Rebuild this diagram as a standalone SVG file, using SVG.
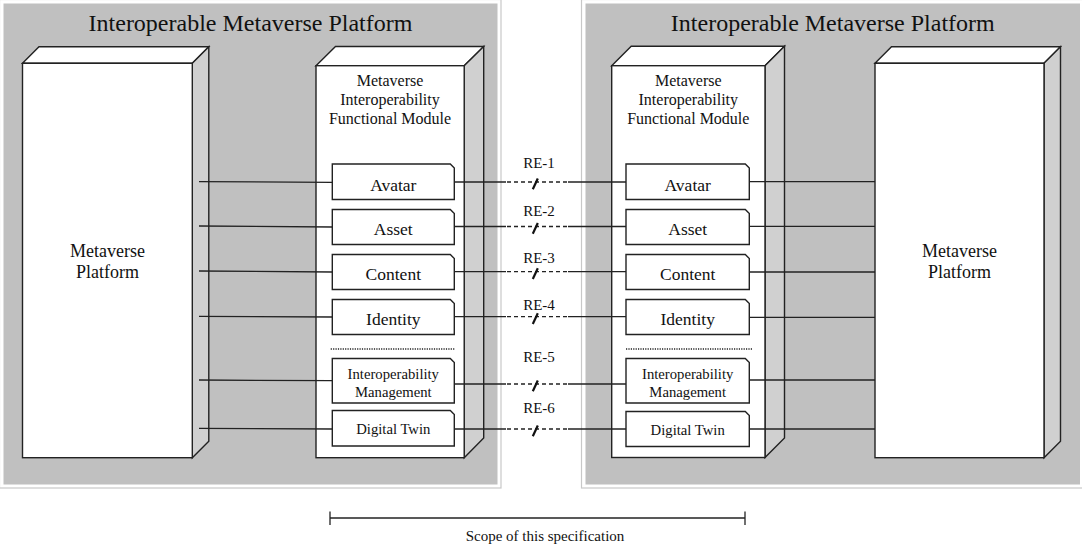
<svg xmlns="http://www.w3.org/2000/svg" width="1082" height="549" viewBox="0 0 1082 549">
<style>
.frame{fill:none;stroke:#c8c8c8;stroke-width:1.2}
.panel{fill:#c0c0c0;stroke:none}
.face{fill:#ffffff;stroke:#222;stroke-width:1.4;stroke-linejoin:miter}
.side{fill:#d0d0d0;stroke:#222;stroke-width:1.4}
.box{fill:#ffffff;stroke:#222;stroke-width:1.4}
.ln{stroke:#222;stroke-width:1.3;fill:none}
.dash{stroke:#222;stroke-width:1.3;fill:none;stroke-dasharray:4 3}
.slash{stroke:#111;stroke-width:2.2;fill:none}
.dots{stroke:#222;stroke-width:1.5;stroke-dasharray:1.2 1.2;fill:none}
text{font-family:"Liberation Serif","Times New Roman",serif;fill:#111;text-anchor:middle}
.title{font-size:24px}
.plat{font-size:18px}
.mod{font-size:16px}
.lbl{font-size:17.5px}
.sm{font-size:14.7px}
.re{font-size:15px}
</style>

<g id="panel-left">
<rect class="frame" x="-0.5" y="-0.5" width="501.5" height="488.5"/>
<rect class="panel" x="3.5" y="3.5" width="494" height="481"/>
<text class="title" x="250.5" y="31">Interoperable Metaverse Platform</text>
</g>
<g id="panel-right">
<rect class="frame" x="581.5" y="-0.5" width="503" height="488.5"/>
<rect class="panel" x="585.5" y="3.5" width="494.5" height="481"/>
<text class="title" x="832.8" y="31">Interoperable Metaverse Platform</text>
</g>

<g id="platform-left">
<polygon class="face" points="22.5,63.3 39,46.8 208.8,46.8 192.3,63.3"/>
<polygon class="side" points="192.3,63.3 208.8,46.8 208.8,441.2 192.3,457.7"/>
<rect class="face" x="22.5" y="63.3" width="169.8" height="394.4"/>
<text class="plat" x="107.5" y="256.7">Metaverse</text>
<text class="plat" x="107.5" y="278.3">Platform</text>
</g>

<g id="platform-right">
<polygon class="face" points="875,63.3 891.5,46.8 1060.5,46.8 1044,63.3"/>
<polygon class="side" points="1044,63.3 1060.5,46.8 1060.5,441.2 1044,457.7"/>
<rect class="face" x="875" y="63.3" width="169" height="394.4"/>
<text class="plat" x="959.5" y="256.7">Metaverse</text>
<text class="plat" x="959.5" y="278.3">Platform</text>
</g>

<g id="module-left">
<polygon class="face" points="316,65.7 335.5,46.5 483.7,46.5 464.2,65.7"/>
<polygon class="side" points="464.2,65.7 483.7,46.5 483.7,438 464.2,457.7"/>
<rect class="face" x="316" y="65.7" width="148.2" height="392"/>
<text class="mod" x="390" y="85.7">Metaverse</text>
<text class="mod" x="390" y="105">Interoperability</text>
<text class="mod" x="390" y="124.3">Functional Module</text>
</g>

<g id="module-right">
<polygon class="face" points="611.7,65.7 631.2,46.3 784.5,46.3 765,65.7"/>
<polygon class="side" points="765,65.7 784.5,46.3 784.5,438 765,457.5"/>
<rect class="face" x="611.7" y="65.7" width="153.3" height="391.8"/>
<text class="mod" x="688.3" y="85.7">Metaverse</text>
<text class="mod" x="688.3" y="105">Interoperability</text>
<text class="mod" x="688.3" y="124.3">Functional Module</text>
</g>

<g id="connectors">
<!-- left platform to left module -->
<line class="ln" x1="199" y1="181.7" x2="332.3" y2="182.3"/>
<line class="ln" x1="199" y1="226" x2="332.3" y2="227"/>
<line class="ln" x1="199" y1="271" x2="332.3" y2="272"/>
<line class="ln" x1="199" y1="316.3" x2="332.3" y2="317"/>
<line class="ln" x1="199" y1="380" x2="332.3" y2="380.7"/>
<line class="ln" x1="199" y1="428.3" x2="332.3" y2="429"/>
<!-- right module to right platform -->
<line class="ln" x1="749.3" y1="181.7" x2="875" y2="181.7"/>
<line class="ln" x1="749.3" y1="226.3" x2="875" y2="226.3"/>
<line class="ln" x1="749.3" y1="272" x2="875" y2="272"/>
<line class="ln" x1="749.3" y1="317.3" x2="875" y2="317.3"/>
<line class="ln" x1="749.3" y1="380" x2="875" y2="380"/>
<line class="ln" x1="749.3" y1="429" x2="875" y2="429"/>
<!-- reference points -->
<g id="re-1">
<line class="ln" x1="454.3" y1="182" x2="506" y2="182"/>
<line class="dash" x1="507" y1="182" x2="568" y2="182"/>
<line class="ln" x1="568" y1="182" x2="626" y2="182"/>
<line class="slash" x1="532.8" y1="189.3" x2="537.8" y2="178.5"/>
</g>
<g id="re-2">
<line class="ln" x1="454.3" y1="226.5" x2="506" y2="226.5"/>
<line class="dash" x1="507" y1="226.5" x2="568" y2="226.5"/>
<line class="ln" x1="568" y1="226.5" x2="626" y2="226.5"/>
<line class="slash" x1="532.8" y1="233.8" x2="537.8" y2="223"/>
</g>
<g id="re-3">
<line class="ln" x1="454.3" y1="271.7" x2="506" y2="271.7"/>
<line class="dash" x1="507" y1="271.7" x2="568" y2="271.7"/>
<line class="ln" x1="568" y1="271.7" x2="626" y2="271.7"/>
<line class="slash" x1="532.8" y1="279" x2="537.8" y2="268.2"/>
</g>
<g id="re-4">
<line class="ln" x1="454.3" y1="316.7" x2="506" y2="316.7"/>
<line class="dash" x1="507" y1="316.7" x2="568" y2="316.7"/>
<line class="ln" x1="568" y1="316.7" x2="626" y2="316.7"/>
<line class="slash" x1="532.8" y1="324" x2="537.8" y2="313.2"/>
</g>
<g id="re-5">
<line class="ln" x1="454.3" y1="384" x2="506" y2="384"/>
<line class="dash" x1="507" y1="384" x2="568" y2="384"/>
<line class="ln" x1="568" y1="384" x2="626" y2="384"/>
<line class="slash" x1="532.8" y1="391.3" x2="537.8" y2="380.5"/>
</g>
<g id="re-6">
<line class="ln" x1="454.3" y1="429" x2="506" y2="429"/>
<line class="dash" x1="507" y1="429" x2="568" y2="429"/>
<line class="ln" x1="568" y1="429" x2="626" y2="429"/>
<line class="slash" x1="532.8" y1="436.3" x2="537.8" y2="425.5"/>
</g>
</g>

<g id="re-labels">
<text class="re" x="539" y="168">RE-1</text>
<text class="re" x="539" y="215.7">RE-2</text>
<text class="re" x="539" y="262.7">RE-3</text>
<text class="re" x="539" y="310">RE-4</text>
<text class="re" x="539" y="361.7">RE-5</text>
<text class="re" x="539" y="413.3">RE-6</text>
</g>

<g id="left-avatar"><path class="box" d="M332.3,164 H450.3 L454.3,168 V199.5 H332.3 Z"/><text class="lbl" x="393.3" y="190.7">Avatar</text></g>
<g id="left-asset"><path class="box" d="M332.3,209.5 H450.3 L454.3,213.5 V244.5 H332.3 Z"/><text class="lbl" x="393.3" y="235">Asset</text></g>
<g id="left-content"><path class="box" d="M332.3,254.5 H450.3 L454.3,258.5 V289.5 H332.3 Z"/><text class="lbl" x="393.3" y="280">Content</text></g>
<g id="left-identity"><path class="box" d="M332.3,299.5 H450.3 L454.3,303.5 V334.5 H332.3 Z"/><text class="lbl" x="393.3" y="325">Identity</text></g>
<line id="left-separator" class="dots" x1="330.7" y1="349" x2="455" y2="349"/>
<g id="left-im"><path class="box" d="M332.3,358.5 H450.3 L454.3,362.5 V403 H332.3 Z"/><text class="sm" x="393.3" y="379">Interoperability</text><text class="sm" x="393.3" y="396.7">Management</text></g>
<g id="left-dt"><path class="box" d="M332.3,410.5 H450.3 L454.3,414.5 V446 H332.3 Z"/><text class="sm" x="393.3" y="434.3">Digital  Twin</text></g>

<g id="right-avatar"><path class="box" d="M626,164 H745.3 L749.3,168 V199.5 H626 Z"/><text class="lbl" x="687.7" y="190.7">Avatar</text></g>
<g id="right-asset"><path class="box" d="M626,209.5 H745.3 L749.3,213.5 V244.5 H626 Z"/><text class="lbl" x="687.7" y="235">Asset</text></g>
<g id="right-content"><path class="box" d="M626,254.5 H745.3 L749.3,258.5 V289.5 H626 Z"/><text class="lbl" x="687.7" y="280">Content</text></g>
<g id="right-identity"><path class="box" d="M626,299.5 H745.3 L749.3,303.5 V334.5 H626 Z"/><text class="lbl" x="687.7" y="325">Identity</text></g>
<line id="right-separator" class="dots" x1="626" y1="349" x2="752" y2="349"/>
<g id="right-im"><path class="box" d="M626,358.5 H745.3 L749.3,362.5 V403 H626 Z"/><text class="sm" x="687.7" y="379">Interoperability</text><text class="sm" x="687.7" y="396.7">Management</text></g>
<g id="right-dt"><path class="box" d="M626,411.5 H745.3 L749.3,415.5 V446.5 H626 Z"/><text class="sm" x="687.7" y="434.8">Digital  Twin</text></g>

<g id="scope">
<line class="ln" x1="330" y1="518" x2="745" y2="518"/>
<line class="ln" x1="330" y1="511.5" x2="330" y2="525"/>
<line class="ln" x1="745" y1="511.5" x2="745" y2="525"/>
<text class="re" x="545" y="541">Scope of this specification</text>
</g>
</svg>
